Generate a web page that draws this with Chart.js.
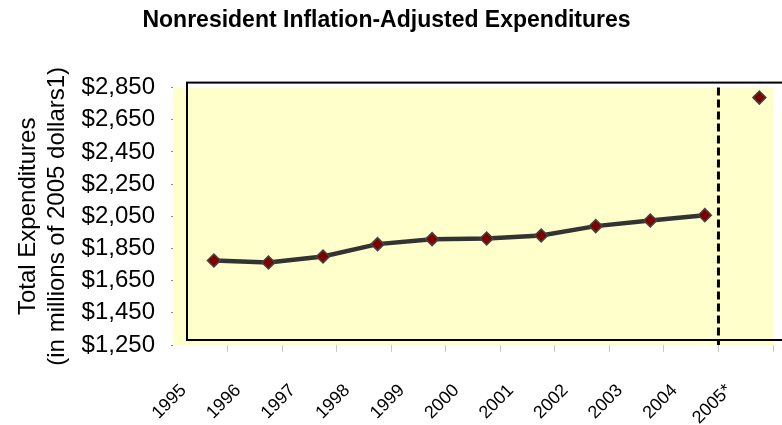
<!DOCTYPE html>
<html lang="en">
  <head>
    <meta charset="UTF-8" />
    <title>Nonresident Inflation-Adjusted Expenditures</title>
    <style>
      body { margin: 0; background: #fff; }
      .wrap { width: 782px; height: 425px; }
    </style>
  </head>
  <body>
    <div class="wrap">
      <canvas id="myChart"></canvas>
    </div>

    <script src="https://cdn.jsdelivr.net/npm/chart.js"></script>
    <script>
      // data
      const years = ["1995", "1996", "1997", "1998", "1999", "2000", "2001", "2002", "2003", "2004", "2005*"];
      const expenditures = [1775, 1763, 1800, 1877, 1908, 1912, 1931, 1989, 2024, 2057];
      const estimate2005 = [2788];
      const yTicks = [1250, 1450, 1650, 1850, 2050, 2250, 2450, 2650, 2850];

      const lineData = expenditures.map((v, i) => ({ x: i, y: v }));
      const estData = estimate2005.map((v, i) => ({ x: expenditures.length + i, y: v }));

      const ctx = document.getElementById("myChart");
      Chart.defaults.font.family = "'Liberation Sans', Arial, sans-serif";
      Chart.defaults.color = "#000";

      // yellow plot area, offset black frame, dashed divider before 2005
      const framePlugin = {
        id: "frame",
        beforeDatasetsDraw(chart) {
          const a = chart.chartArea;
          const c = chart.ctx;
          c.save();
          c.fillStyle = "#FFFFCC";
          c.fillRect(a.left, a.top, a.right - a.left, a.bottom - a.top);

          c.strokeStyle = "#000";
          c.lineWidth = 2;
          c.strokeRect(a.left + 14, a.top - 5, a.right - a.left + 30, a.bottom - a.top);

          const xd = chart.scales.x.getPixelForValue(expenditures.length - 0.75);
          c.lineWidth = 3;
          c.setLineDash([8, 4]);
          c.beginPath();
          c.moveTo(xd, a.top);
          c.lineTo(xd, a.bottom);
          c.stroke();
          c.restore();
        }
      };

      const myChart = new Chart(ctx, {
        type: "scatter",
        data: {
          datasets: [
            {
              label: "Expenditures",
              data: lineData,
              showLine: true,
              borderColor: "#333",
              borderWidth: 4.5,
              pointStyle: "rectRot",
              pointRadius: 6.5,
              pointBackgroundColor: "#800000",
              pointBorderColor: "#444",
              pointBorderWidth: 1.5,
            },
            {
              label: "2005 estimate",
              data: estData,
              showLine: false,
              pointStyle: "rectRot",
              pointRadius: 6.5,
              pointBackgroundColor: "#800000",
              pointBorderColor: "#444",
              pointBorderWidth: 1.5,
            },
          ],
        },
        options: {
          responsive: true,
          maintainAspectRatio: false,
          animation: false,
          layout: { padding: { left: 0, right: 9, top: 0, bottom: 0 } },
          plugins: {
            legend: { display: false },
            tooltip: { enabled: false },
            title: {
              display: true,
              text: "Nonresident Inflation-Adjusted Expenditures",
              font: { size: 23, weight: "bold" },
              color: "#000",
              padding: { top: 7, bottom: 53 },
            },
          },
          scales: {
            x: {
              type: "linear",
              min: -0.75,
              max: years.length - 0.75,
              afterBuildTicks: (scale) => {
                scale.ticks = years.map((_, i) => ({ value: i + 0.25 }));
              },
              afterFit: (scale) => {
                scale.height = 80;
                scale.paddingLeft = 0;
                scale.paddingRight = 0;
              },
              border: { display: false },
              grid: {
                drawOnChartArea: false,
                drawTicks: true,
                tickLength: 7,
                color: "#c8c8c8",
              },
              ticks: {
                autoSkip: false,
                minRotation: 45,
                maxRotation: 45,
                labelOffset: -44,
                padding: 28,
                font: { size: 18 },
                color: "#000",
                callback: (value, index) => years[index],
              },
            },
            y: {
              min: yTicks[0],
              max: yTicks[yTicks.length - 1],
              afterBuildTicks: (scale) => {
                scale.ticks = yTicks.map((v) => ({ value: v }));
              },
              afterFit: (scale) => {
                scale.width = 173;
                scale.paddingTop = 0;
                scale.paddingBottom = 0;
              },
              border: { display: false },
              grid: {
                drawOnChartArea: false,
                tickLength: 2,
                color: "#888",
              },
              ticks: {
                padding: 16,
                font: { size: 24 },
                color: "#000",
                callback: (v) => "$" + v.toLocaleString("en-US"),
              },
              title: {
                display: true,
                text: ["Total Expenditures", "(in millions of 2005 dollars1)"],
                font: { size: 24, lineHeight: 1.2 },
                color: "#000",
                padding: { top: 14, bottom: 0 },
              },
            },
          },
        },
        plugins: [framePlugin],
      });
    </script>
  </body>
</html>
